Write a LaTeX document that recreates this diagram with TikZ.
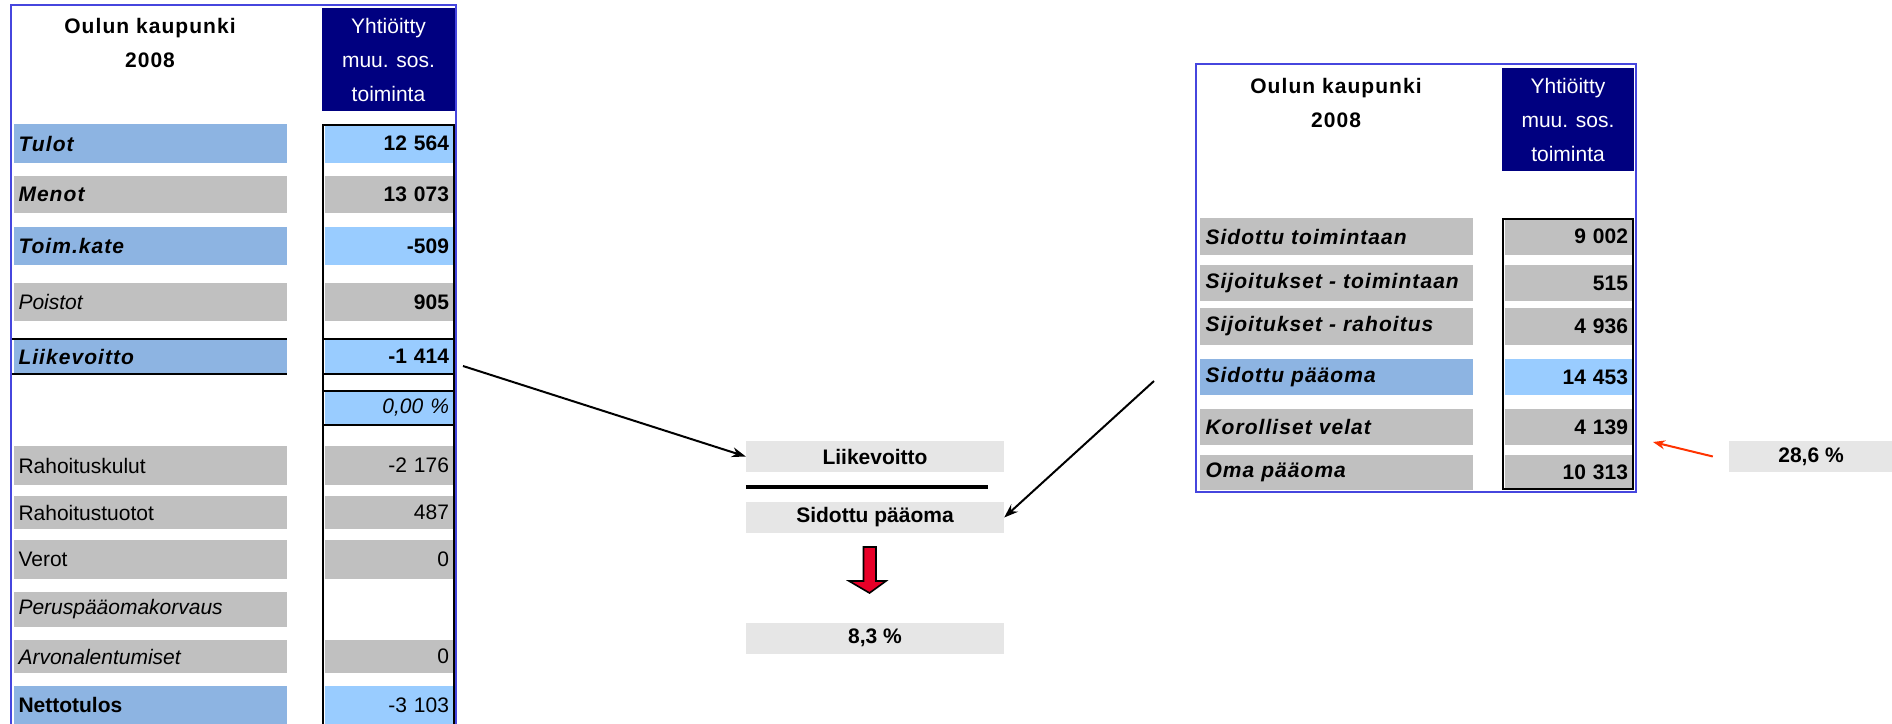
\documentclass[tikz,border=0pt]{standalone}
\usepackage{fontspec}
\setmainfont{Liberation Sans}
\newfontfamily\lsfam[LetterSpace=5]{Liberation Sans}
\usetikzlibrary{arrows.meta}
\definecolor{bord}{RGB}{70,70,222}
\definecolor{navy}{RGB}{0,0,128}
\definecolor{lblue}{RGB}{141,180,226}
\definecolor{vblue}{RGB}{153,204,255}
\definecolor{cgray}{RGB}{192,192,192}
\definecolor{mgray}{RGB}{230,230,230}
\definecolor{redarr}{RGB}{232,0,40}
\definecolor{orarr}{RGB}{255,51,0}
\newcommand{\bi}{\lsfam\bfseries\itshape}
\begin{document}
\begin{tikzpicture}[x=1pt,y=-1pt,
  every node/.style={font=\fontsize{21}{34}\selectfont, inner sep=0pt},
  lab/.style={minimum width=273pt, text width=264pt, align=left, inner xsep=4.5pt},
  val/.style={minimum width=128pt, text width=120pt, align=right, inner xsep=4pt},
  rval/.style={minimum width=127pt, text width=119pt, align=right, inner xsep=4pt},
  hdr/.style={fill=navy, text=white, align=center, minimum width=133pt, minimum height=103pt},
  title/.style={align=center, font=\fontsize{21}{34}\selectfont\lsfam\bfseries},
  mbox/.style={fill=mgray, minimum width=258pt, minimum height=31pt, font=\fontsize{21}{24}\selectfont\bfseries},
  bordline/.style={draw=bord, line width=2pt},
  blk/.style={draw=black, line width=2.6pt},
  conn/.style={draw=black, line width=2pt, -{Stealth[length=14pt,width=10pt]}},
  oconn/.style={draw=orarr, line width=2pt, -{Stealth[length=12pt,width=9pt]}}
]
\clip (0,0) rectangle (1892,723);
\fill[white] (0,0) rectangle (1892,723);

% ---------------- left table ----------------
\node[title] (tL) at (150,42.5) {Oulun kaupunki\\2008};
\node[hdr] (hL) at (388.5,59.5) {Yhtiöitty\\muu. sos.\\toiminta};

\node[lab, fill=lblue, minimum height=39pt] (lTulot) at (150.5,143.5) {\bi Tulot};
\node[lab, fill=cgray, minimum height=37pt] (lMenot) at (150.5,194.5) {\bi Menot};
\node[lab, fill=lblue, minimum height=38pt] (lKate) at (150.5,246) {\bi Toim.kate};
\node[lab, fill=cgray, minimum height=38pt] (lPoist) at (150.5,302) {\itshape Poistot};
\node[lab, fill=lblue, minimum height=35pt] (lLiike) at (150.5,356.5) {\bi Liikevoitto};
\node[lab, fill=cgray, minimum height=39pt] (lRk) at (150.5,465.5) {Rahoituskulut};
\node[lab, fill=cgray, minimum height=33pt] (lRt) at (150.5,512.5) {Rahoitustuotot};
\node[lab, fill=cgray, minimum height=39pt] (lVer) at (150.5,559.5) {Verot};
\node[lab, fill=cgray, minimum height=35pt] (lPpk) at (150.5,609.5) {\itshape Peruspääomakorvaus};
\node[lab, fill=cgray, minimum height=33pt] (lArv) at (150.5,656.5) {\itshape Arvonalentumiset};
\node[lab, fill=lblue, minimum height=38pt] (lNet) at (150.5,705) {\bfseries Nettotulos};

\node[val, fill=vblue, minimum height=39pt] (vTulot) at (389,143.5) {\bfseries 12 564};
\node[val, fill=cgray, minimum height=37pt] (vMenot) at (389,194.5) {\bfseries 13 073};
\node[val, fill=vblue, minimum height=38pt] (vKate) at (389,246) {\bfseries -509};
\node[val, fill=cgray, minimum height=38pt] (vPoist) at (389,302) {\bfseries 905};
\node[val, fill=vblue, minimum height=35pt] (vLiike) at (389,356.5) {\bfseries -1 414};
\node[val, fill=vblue, minimum height=34pt] (vPct) at (389,408) {\itshape 0,00 \%};
\node[val, fill=cgray, minimum height=39pt] (vRk) at (389,465.5) {-2 176};
\node[val, fill=cgray, minimum height=33pt] (vRt) at (389,512.5) {487};
\node[val, fill=cgray, minimum height=39pt] (vVer) at (389,559.5) {0};
\node[val, fill=cgray, minimum height=33pt] (vArv) at (389,656.5) {0};
\node[val, fill=vblue, minimum height=38pt] (vNet) at (389,705) {-3 103};

\draw[blk] (323,125) rectangle (454,740);
\draw[blk] (323,339) -- (454,339) (323,374) -- (454,374)
           (323,391) -- (454,391) (323,425) -- (454,425);
\draw[blk] (11,339) -- (287,339) (11,374) -- (287,374);
\draw[bordline] (11,740) -- (11,5) -- (456,5) -- (456,740);

% ---------------- right table ----------------
\node[title] (tR) at (1336,102.5) {Oulun kaupunki\\2008};
\node[hdr, minimum width=132pt] (hR) at (1568,119.5) {Yhtiöitty\\muu. sos.\\toiminta};

\node[lab, fill=cgray, minimum height=37pt, inner xsep=5.5pt, text width=262pt] (rSt) at (1336.5,236.5) {\bi Sidottu toimintaan};
\node[lab, fill=cgray, minimum height=36pt, inner xsep=5.5pt, text width=262pt] (rSjt) at (1336.5,283) {\bi Sijoitukset - toimintaan};
\node[lab, fill=cgray, minimum height=37pt, inner xsep=5.5pt, text width=262pt] (rSjr) at (1336.5,326.5) {\bi Sijoitukset - rahoitus};
\node[lab, fill=lblue, minimum height=36pt, inner xsep=5.5pt, text width=262pt] (rSp) at (1336.5,377) {\bi Sidottu pääoma};
\node[lab, fill=cgray, minimum height=36pt, inner xsep=5.5pt, text width=262pt] (rKv) at (1336.5,427) {\bi Korolliset velat};
\node[lab, fill=cgray, minimum height=35pt, inner xsep=5.5pt, text width=262pt] (rOp) at (1336.5,472.5) {\bi Oma pääoma};

\node[rval, fill=cgray, minimum height=37pt] (wSt) at (1568.5,236.5) {\bfseries 9 002};
\node[rval, fill=cgray, minimum height=36pt] (wSjt) at (1568.5,283) {\bfseries 515};
\node[rval, fill=cgray, minimum height=37pt] (wSjr) at (1568.5,326.5) {\bfseries 4 936};
\node[rval, fill=vblue, minimum height=36pt] (wSp) at (1568.5,377) {\bfseries 14 453};
\node[rval, fill=cgray, minimum height=36pt] (wKv) at (1568.5,427) {\bfseries 4 139};
\node[rval, fill=cgray, minimum height=35pt] (wOp) at (1568.5,472.5) {\bfseries 10 313};

\draw[blk] (1503,219) rectangle (1633,489);
\draw[bordline] (1196,64) rectangle (1636,492);

% ---------------- middle ----------------
\node[mbox] (mLiike) at (875,456.5) {Liikevoitto};
\node[mbox] (mSid) at (875,517.5) {Sidottu pääoma};
\node[mbox] (mRes) at (875,638) {8,3 \%};
\draw[black, line width=3.5pt] (mLiike.south west |- 0,487) -- (988,487);
\draw[fill=redarr, draw=black, line width=1.6pt, line join=miter]
  (863.5,547) -- (876,547) -- (876,581) -- (886,581) -- (869.5,593) -- (849,581) -- (863.5,581) -- cycle;

\coordinate (a1) at (463,366);
\coordinate (a2) at (1154,381);
\draw[conn] (a1) -- (mLiike.west);
\draw[conn] (a2) -- (mSid.east);

% ---------------- ratio ----------------
\node[mbox, minimum width=164pt] (p286) at (1811,456.5) {28,6 \%};
\coordinate (oTip) at (1653,442);
\draw[oconn] ([xshift=-16pt]p286.west) -- (oTip);
\end{tikzpicture}
\end{document}
